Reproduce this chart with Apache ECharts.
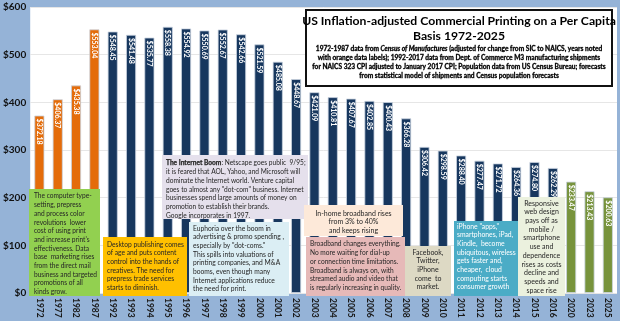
<!DOCTYPE html>
<html>
<head>
<meta charset="utf-8">
<script src="https://cdn.jsdelivr.net/npm/echarts@6/dist/echarts.min.js"></script>
<style>
  html, body { margin: 0; padding: 0; background: #95B3D7; }
  #chart { width: 620px; height: 321px; }
</style>
</head>
<body>
<div id="chart"></div>
<script>
// Years shown on the category axis
const years = ['1972','1977','1982','1987','1992','1993','1994','1995','1996','1997','1998','1999','2000','2001','2002','2003','2004','2005','2006','2007','2008','2009','2010','2011','2012','2013','2014','2015','2016','2020','2023','2025'];

// Per-capita commercial printing shipments, inflation-adjusted dollars
const perCapita = [372.18, 406.37, 435.38, 553.04, 548.45, 541.48, 535.77, 558.38, 554.92, 550.69, 552.67, 542.66, 521.59, 485.08, 448.67, 421.09, 410.81, 407.67, 402.85, 400.43, 366.28, 306.42, 298.59, 288.40, 277.47, 271.72, 264.36, 274.80, 262.29, 233.47, 213.43, 200.63];

// Source of each value: census, m3 (Dept. of Commerce), forecast
const dataSource = ['census','census','census','census','m3','m3','m3','m3','m3','m3','m3','m3','m3','m3','m3','m3','m3','m3','m3','m3','m3','m3','m3','m3','m3','m3','m3','m3','m3','forecast','forecast','forecast'];

// Value axis ticks
const yTicks = { min: 0, max: 600, step: 100 };

const sourceColor = { census: '#E46C0A', m3: '#17375E', forecast: '#77933C' };

const FONT = 'Lato, "Open Sans", sans-serif';
const TXT = '#262626';

const barData = perCapita.map((v, i) => ({
  value: v,
  itemStyle: { color: sourceColor[dataSource[i]] }
}));

// Annotation boxes laid over the plot
function note(x, y, w, h, bg, text, opts) {
  opts = opts || {};
  const align = opts.align || 'left';
  const tx = align === 'center' ? x + w / 2 : x + (opts.pad != null ? opts.pad : 4);
  return [
    { type: 'rect', zlevel: 1, z: 100, shape: { x: x, y: y, width: w, height: h }, style: { fill: bg } },
    {
      type: 'text', zlevel: 1, z: 101,
      style: {
        x: tx, y: y + (opts.top != null ? opts.top : 3),
        text: text,
        fill: opts.color || TXT,
        fontFamily: FONT,
        fontSize: opts.size || 6.7,
        lineHeight: opts.lh || 8.7,
        align: align,
        verticalAlign: 'top',
        rich: opts.rich
      }
    }
  ];
}

const notes = [].concat(
  note(29, 189, 71, 107, '#92D050',
    'The computer type-\nsetting, prepress\nand process color\nrevolutions  lower\ncost of using print\nand increase print\'s\neffectiveness. Data\nbase  marketing rises\nfrom the direct mail\nbusiness and targeted\npromotions of all\nkinds grow.', { pad: 5, top: 3, size: 6.6 }),
  note(103, 237, 84, 59, '#FFC000',
    'Desktop publishing comes\nof age and puts content\ncontrol into the hands of\ncreatives. The need for\nprepress trade services\nstarts to diminish.', { pad: 4, top: 3 }),
  note(162, 155, 146, 64, '#E5E0EC',
    '{b|The Internet Boom}: Netscape goes public  9/95;\nit is feared that AOL, Yahoo, and Microsoft will\ndominate the Internet world. Venture capital\ngoes to almost any "dot-com" business. Internet\nbusinesses spend large amounts of money on\npromotion to establish their brands.\nGoogle incorporates in 1997.',
    { pad: 4, top: 4, size: 6.6, rich: { b: { fontWeight: 700, fontFamily: FONT, fontSize: 6.6, fill: TXT, stroke: TXT, lineWidth: 0.25 } } }),
  note(189, 222, 100, 74, '#DBEEF4',
    'Euphoria over the boom in\nadvertising & promo spending ,\nespecially by "dot-coms."\nThis spills into valuations of\nprinting companies, and M&A\nbooms, even though many\nInternet applications reduce\nthe need for print.', { pad: 4, top: 2 }),
  note(304, 205, 99, 31, '#FDE9D9',
    'In-home broadband rises\nfrom 3% to 40%\nand keeps rising', { align: 'center', top: 4, size: 7 }),
  note(306, 237, 99, 59, '#E6B9B8',
    'Broadband changes everything.\nNo more waiting for dial-up\nor connection time limitations.\nBroadband is always on, with\nstreamed audio and video that\nis regularly increasing in quality.', { pad: 4, top: 3, size: 6.6 }),
  note(405, 246, 46, 50, '#DDD9C4',
    'Facebook,\nTwitter,\niPhone\ncome  to\nmarket.', { align: 'center', top: 2, size: 7 }),
  note(454, 221, 64, 75, '#4BACC6',
    'iPhone "apps,"\nsmartphones, iPad,\nKindle,  become\nubiquitous, wireless\ngets faster and,\ncheaper,  cloud\ncomputing starts\nconsumer growth', { pad: 3, top: 1, size: 6.8, color: '#ffffff' }),
  note(518, 197, 47, 99, '#EBF1DE',
    'Responsive\nweb design\npays off as\nmobile /\nsmartphone\nuse and\ndependence\nrises as costs\ndecline and\nspeeds and\nspace rise', { align: 'center', top: 2, size: 7 })
);

// Title panel: heading plus a four-line source note
const subStyle = { fontWeight: 700, fontFamily: FONT, fontSize: 6.6, fill: '#000000', stroke: '#000000', lineWidth: 0.3 };
const titleParts = [
  { type: 'rect', zlevel: 1, z: 110, shape: { x: 306, y: 10, width: 306, height: 76 },
    style: { fill: '#ffffff', stroke: '#111111', lineWidth: 2 } },
  { type: 'text', zlevel: 1, z: 111,
    style: {
      x: 459, y: 14,
      text: 'US Inflation-adjusted Commercial Printing on a Per Capita\nBasis 1972-2025',
      fill: '#000000', fontFamily: FONT, fontWeight: 700, fontSize: 12.2,
      lineHeight: 15, align: 'center', verticalAlign: 'top'
    } },
  { type: 'text', zlevel: 1, z: 111,
    style: {
      x: 459, y: 45,
      text: '{n|1972-1987 data from }{i|Census of Manufactures}{n| (adjusted for change from SIC to NAICS, years noted}',
      fill: '#000000', fontFamily: FONT, fontWeight: 700, fontSize: 6.6,
      lineHeight: 8.7, align: 'center', verticalAlign: 'top',
      rich: { n: subStyle, i: Object.assign({}, subStyle, { fontStyle: 'italic' }) }
    } },
  { type: 'text', zlevel: 1, z: 111,
    style: Object.assign({}, subStyle, {
      x: 459, y: 53.7,
      text: 'with orange data labels); 1992-2017 data from Dept. of Commerce M3 manufacturing shipments\nfor NAICS 323 CPI adjusted to January 2017 CPI; Population data from US Census Bureau; forecasts\nfrom statistical model of shipments and Census population forecasts',
      lineHeight: 8.7, align: 'center', verticalAlign: 'top'
    }) }
];

const chart = echarts.init(document.getElementById('chart'), null, { renderer: 'canvas' });
chart.setOption({
  backgroundColor: '#95B3D7',
  animation: false,
  grid: {
    left: 29, right: 3, top: 7, bottom: 28,
    show: true, backgroundColor: '#ffffff', borderWidth: 0
  },
  xAxis: {
    type: 'category',
    data: years,
    axisLine: { show: false },
    axisTick: { show: false },
    axisLabel: {
      rotate: -90, interval: 0, margin: 5,
      fontFamily: FONT, fontWeight: 'bold', fontSize: 8.5, color: '#1a1a1a'
    }
  },
  yAxis: {
    type: 'value',
    min: yTicks.min, max: yTicks.max, interval: yTicks.step,
    axisLine: { show: false },
    axisTick: { show: false },
    splitLine: { lineStyle: { color: '#e6e6e6', width: 1 } },
    axisLabel: {
      formatter: v => '$' + v,
      margin: 4,
      fontFamily: FONT, fontWeight: 'bold', fontSize: 10, color: '#111111'
    }
  },
  series: [{
    type: 'bar',
    data: barData,
    barWidth: 10,
    itemStyle: { borderColor: '#c9d3e0', borderWidth: 0.8 },
    label: {
      show: true,
      position: 'insideTop',
      distance: 3,
      rotate: -90,
      align: 'left',
      verticalAlign: 'middle',
      formatter: p => '$' + p.value.toFixed(2),
      color: '#ffffff',
      fontFamily: FONT, fontWeight: 'bold', fontSize: 7
    }
  }],
  graphic: { elements: notes.concat(titleParts) }
});
</script>
</body>
</html>
